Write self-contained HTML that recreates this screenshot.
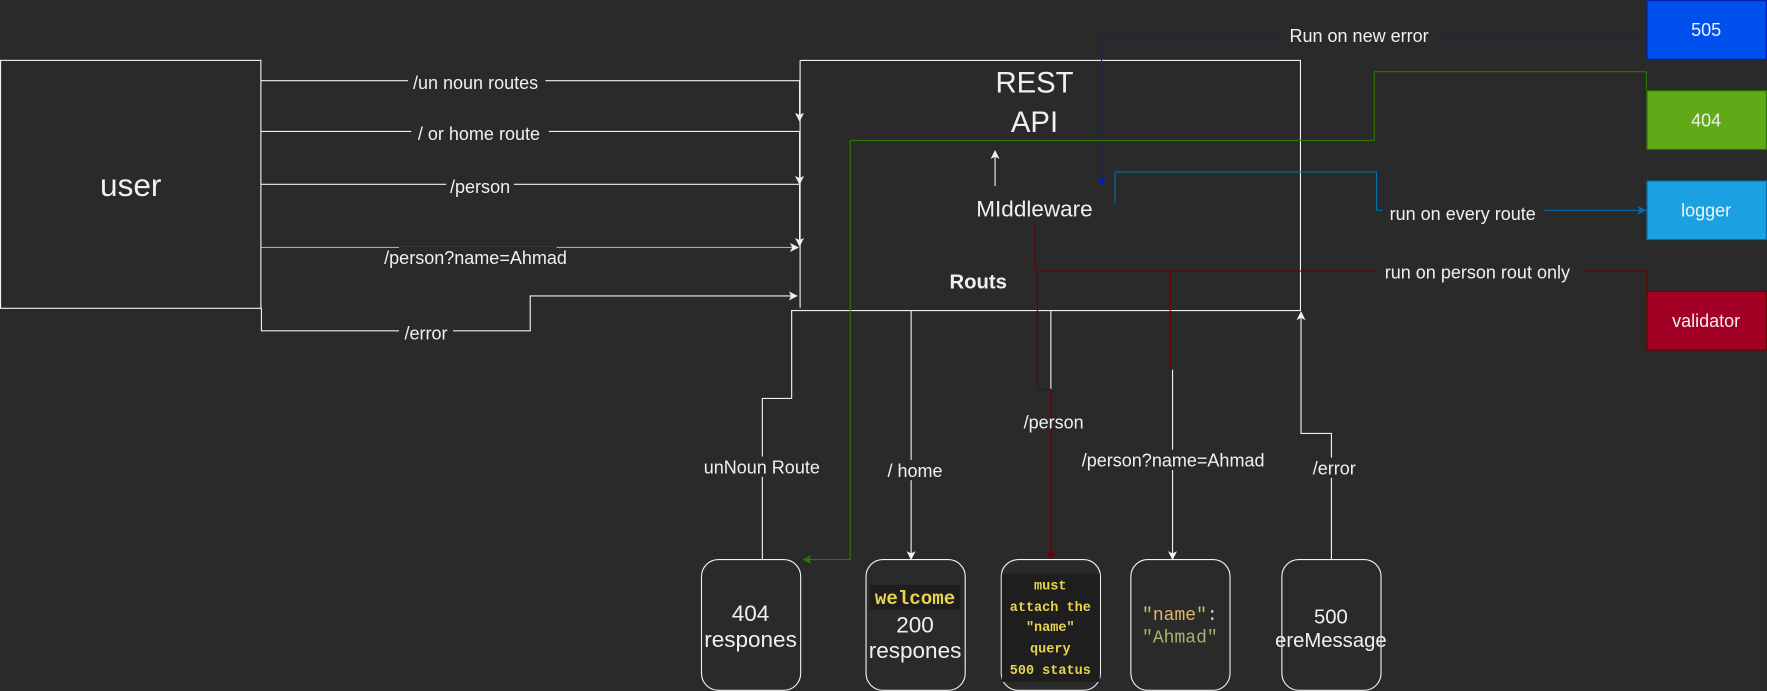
<!DOCTYPE html>
<html><head><meta charset="utf-8"><style>
html,body{margin:0;padding:0;background:#2a2a2a;}
svg{display:block;}
text{font-family:"Liberation Sans",sans-serif;fill:#f0f0f0;}
text.m{font-family:"Liberation Mono","DejaVu Sans Mono",monospace;font-weight:bold;}
</style></head><body>
<svg width="1767" height="691" viewBox="0 0 1568 613" xmlns="http://www.w3.org/2000/svg">
<defs>
<marker id="aw" markerWidth="8" markerHeight="8" refX="7" refY="4" orient="auto" markerUnits="userSpaceOnUse"><path d="M0,0 L8,4 L0,8 L2,4 Z" fill="#f0f0f0"/></marker>
<marker id="ab" markerWidth="8" markerHeight="8" refX="7" refY="4" orient="auto" markerUnits="userSpaceOnUse"><path d="M0,0 L8,4 L0,8 L2,4 Z" fill="#001dbc"/></marker>
<marker id="al" markerWidth="8" markerHeight="8" refX="7" refY="4" orient="auto" markerUnits="userSpaceOnUse"><path d="M0,0 L8,4 L0,8 L2,4 Z" fill="#006eaf"/></marker>
<marker id="ag" markerWidth="8" markerHeight="8" refX="7" refY="4" orient="auto" markerUnits="userSpaceOnUse"><path d="M0,0 L8,4 L0,8 L2,4 Z" fill="#2d7600"/></marker>
<marker id="ar" markerWidth="8" markerHeight="8" refX="7" refY="4" orient="auto" markerUnits="userSpaceOnUse"><path d="M0,0 L8,4 L0,8 L2,4 Z" fill="#6f0000"/></marker>
</defs>
<rect width="1568" height="613" fill="#2a2a2a"/>

<rect x="0.5" y="53.5" width="231" height="220" fill="none" stroke="#f0f0f0" stroke-width="1"/>
<text x="116" y="174" font-size="28" text-anchor="middle">user</text>

<path d="M710,53.5 H1154 V275.5 H702 M710,53.5 V273" fill="none" stroke="#f0f0f0" stroke-width="1"/>
<text x="918" y="82" font-size="26" text-anchor="middle">REST</text>
<text x="918" y="117" font-size="26" text-anchor="middle">API</text>
<text x="918" y="192" font-size="20" text-anchor="middle">MIddleware</text>
<text x="868" y="256" font-size="18" font-weight="bold" text-anchor="middle">Routs</text>
<line x1="883" y1="165" x2="883" y2="134" stroke="#f0f0f0" marker-end="url(#aw)"/>

<g fill="none" stroke="#f0f0f0" stroke-width="1">
<path d="M232,71.5 H709.5 V107" marker-end="url(#aw)"/>
<path d="M232,116.5 H709.5 V163" marker-end="url(#aw)"/>
<path d="M232,163.5 H709.5 V218" marker-end="url(#aw)"/>
<path d="M232,219.5 H708" stroke="#aaa" marker-end="url(#aw)"/>
<path d="M232,273 V293.5 H470.5 V262.5 H707" marker-end="url(#aw)"/>
</g>
<g font-size="16" text-anchor="middle">
<rect x="362" y="64" width="122" height="18" fill="#2a2a2a"/><text x="422" y="79">/un noun routes</text>
<rect x="365" y="109" width="122" height="18" fill="#2a2a2a"/><text x="425" y="124">/ or home route</text>
<rect x="396" y="156" width="60" height="18" fill="#2a2a2a"/><text x="426" y="171">/person</text>
<rect x="354" y="219" width="140" height="18" fill="#2a2a2a"/><text x="422" y="234">/person?name=Ahmad</text>
<rect x="354" y="286" width="48" height="18" fill="#2a2a2a"/><text x="378" y="301">/error</text>
</g>

<rect x="1461.5" y="0.5" width="106" height="52" fill="#0050ef" stroke="#001dbc"/>
<text x="1514" y="32" font-size="16" text-anchor="middle">505</text>
<rect x="1461.5" y="80.5" width="106" height="52" fill="#60a917" stroke="#2d7600"/>
<text x="1514" y="112" font-size="16" text-anchor="middle">404</text>
<rect x="1461.5" y="160.5" width="106" height="52" fill="#1ba1e2" stroke="#006eaf"/>
<text x="1514" y="192" font-size="16" text-anchor="middle">logger</text>
<rect x="1461.5" y="258.5" width="106" height="52" fill="#a20025" stroke="#6f0000"/>
<text x="1514" y="290" font-size="16" text-anchor="middle">validator</text>

<g fill="none" stroke-width="1">
<path d="M1461,31.5 H977.5 V164" stroke="#001dbc" marker-end="url(#ab)"/>
<path d="M1461,80 V63.5 H1219.5 V124.5 H754.5 V496.5 H713" stroke="#2d7600" marker-end="url(#ag)"/>
<path d="M989.5,180 V152.5 H1221.5 V186.5 H1460" stroke="#006eaf" marker-end="url(#al)"/>
<path d="M918.5,196 V240.5 H1461.5 V258" stroke="#6f0000"/>
<path d="M920.5,240 V345.5 H932.5 V496" stroke="#6f0000" marker-end="url(#ar)"/>
<path d="M1038.5,240 V328" stroke="#6f0000"/>
</g>
<g font-size="16" text-anchor="middle">
<rect x="1136" y="22" width="140" height="18" fill="#2a2a2a"/><text x="1206" y="37">Run on new error</text>
<rect x="1227" y="180" width="143" height="18" fill="#2a2a2a"/><text x="1298" y="195">run on every route</text>
<rect x="1220" y="232" width="184" height="18" fill="#2a2a2a"/><text x="1311" y="247">run on person rout only</text>
</g>

<g fill="none" stroke="#f0f0f0" stroke-width="1">
<path d="M702.5,275 V353.5 H676.5 V496"/>
<path d="M808.5,275 V496" marker-end="url(#aw)"/>
<path d="M932.5,275 V345"/>
<path d="M1040.5,328 V496" marker-end="url(#aw)"/>
<path d="M1181.5,496 V384.5 H1154.5 V277" marker-end="url(#aw)"/>
</g>
<g font-size="16" text-anchor="middle">
<rect x="617" y="405" width="118" height="18" fill="#2a2a2a"/><text x="676" y="420">unNoun Route</text>
<rect x="784" y="408" width="56" height="18" fill="#2a2a2a"/><text x="812" y="423">/ home</text>
<text x="935" y="380">/person</text>
<rect x="950" y="399" width="182" height="18" fill="#2a2a2a"/><text x="1041" y="414">/person?name=Ahmad</text>
<rect x="1160" y="406" width="48" height="18" fill="#2a2a2a"/><text x="1184" y="421">/error</text>
</g>

<g fill="#2a2a2a" stroke="#f0f0f0" stroke-width="1">
<rect x="622.5" y="496.5" width="88" height="116" rx="15"/>
<rect x="768.5" y="496.5" width="88" height="116" rx="15"/>
<rect x="888.5" y="496.5" width="88" height="116" rx="15"/>
<rect x="1003.5" y="496.5" width="88" height="116" rx="15"/>
<rect x="1137.5" y="496.5" width="88" height="116" rx="15"/>
</g>
<g font-size="20" text-anchor="middle">
<text x="666" y="551">404</text><text x="666" y="574">respones</text>
<rect x="772" y="519" width="80" height="22" fill="#1e1e1e"/>
<text x="812" y="536" class="m" font-size="17" style="fill:#e8d44d">welcome</text>
<text x="812" y="561">200</text><text x="812" y="584">respones</text>
<text x="1181" y="553" font-size="18">500</text><text x="1181" y="574" font-size="18">ereMessage</text>
</g>
<rect x="889" y="509" width="87" height="96" fill="#1e1e1e"/>
<g font-size="12" text-anchor="middle">
<text class="m" x="932" y="523" style="fill:#e8d44d">must</text>
<text class="m" x="932" y="542" style="fill:#e8d44d">attach the</text>
<text class="m" x="932" y="560" style="fill:#e8d44d">"name"</text>
<text class="m" x="932" y="579" style="fill:#e8d44d">query</text>
<text class="m" x="932" y="598" style="fill:#e8d44d">500 status</text>
</g>
<text x="1047" y="550" class="m" font-size="16" text-anchor="middle" style="font-weight:normal"><tspan style="fill:#dbb768">"name"</tspan><tspan style="fill:#d0d0d0">:</tspan></text>
<text x="1047" y="570" class="m" font-size="16" text-anchor="middle" style="fill:#a5b56a;font-weight:normal">"Ahmad"</text>
</svg>
</body></html>
